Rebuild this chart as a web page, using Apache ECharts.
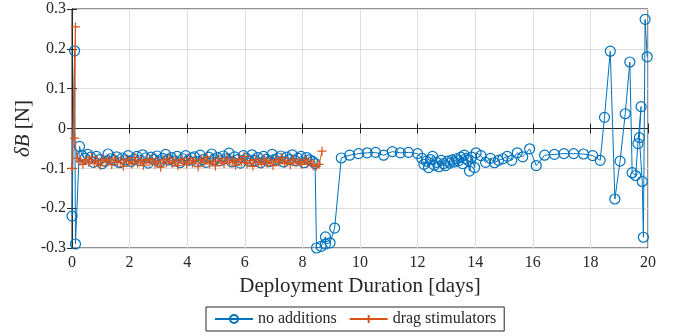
<!DOCTYPE html>
<html><head><meta charset="utf-8">
<script src="https://cdn.jsdelivr.net/npm/echarts@6/dist/echarts.min.js"></script>
<style>html,body{margin:0;padding:0;background:#fff}#c{width:674px;height:336px}</style>
</head><body><div id="c"></div>
<script>
// ---- data (days, delta B in N) ----
var blueDays = [
 0.00,0.09,0.12,0.26,
 0.35,0.45,0.55,0.65,0.75,0.85,0.95,1.05,1.15,1.25,
 1.35,1.45,1.55,1.65,1.75,1.85,1.95,2.05,2.15,2.25,
 2.35,2.45,2.55,2.65,2.75,2.85,2.95,3.05,3.15,3.25,
 3.35,3.45,3.55,3.65,3.75,3.85,3.95,4.05,4.15,4.25,
 4.35,4.45,4.55,4.65,4.75,4.85,4.95,5.05,5.15,5.25,
 5.35,5.45,5.55,5.65,5.75,5.85,5.95,6.05,6.15,6.25,
 6.35,6.45,6.55,6.65,6.75,6.85,6.95,7.05,7.15,7.25,
 7.35,7.45,7.55,7.65,7.75,7.85,7.95,8.05,8.15,8.25,
 8.35,8.44,
 8.49,8.65,8.80,8.80,8.96,9.12,9.35,9.64,9.95,10.25,10.54,10.82,11.12,11.40,11.68,12.00,
 12.15,12.22,12.30,12.38,12.45,12.52,12.58,12.66,12.74,12.82,12.90,12.97,13.05,13.12,
 13.20,13.28,13.35,13.42,13.50,13.56,13.62,13.68,13.75,13.80,13.88,13.98,
 14.03,14.20,14.36,14.53,14.67,14.81,14.96,15.11,15.27,15.46,15.65,15.89,16.12,16.41,
 16.75,17.08,17.42,17.76,18.08,18.34,18.49,18.69,18.85,19.03,19.21,19.37,19.45,19.57,
 19.65,19.76,19.70,19.80,19.84,19.90,19.97
];
var blueValues = [
 -0.220,0.195,-0.290,-0.045,
 -0.068,-0.075,-0.065,-0.072,-0.085,-0.070,-0.078,-0.088,-0.082,-0.064,
 -0.076,-0.080,-0.071,-0.086,-0.074,-0.079,-0.068,-0.083,-0.077,-0.070,
 -0.081,-0.066,-0.074,-0.087,-0.072,-0.078,-0.069,-0.084,-0.075,-0.065,
 -0.079,-0.073,-0.082,-0.070,-0.086,-0.076,-0.068,-0.080,-0.074,-0.071,
 -0.083,-0.067,-0.078,-0.085,-0.072,-0.064,-0.079,-0.073,-0.081,-0.069,
 -0.076,-0.062,-0.084,-0.071,-0.078,-0.087,-0.068,-0.075,-0.082,-0.066,
 -0.080,-0.073,-0.086,-0.070,-0.077,-0.083,-0.065,-0.079,-0.074,-0.069,
 -0.084,-0.072,-0.078,-0.066,-0.081,-0.075,-0.070,-0.086,-0.073,-0.079,
 -0.082,-0.088,
 -0.300,-0.296,-0.272,-0.290,-0.287,-0.250,-0.074,-0.067,-0.063,-0.061,-0.060,-0.067,-0.058,-0.061,-0.060,-0.063,
 -0.075,-0.090,-0.082,-0.098,-0.078,-0.070,-0.092,-0.085,-0.096,-0.080,-0.088,-0.093,-0.082,-0.087,
 -0.079,-0.084,-0.076,-0.081,-0.072,-0.088,-0.067,-0.075,-0.080,-0.107,-0.072,-0.098,
 -0.061,-0.068,-0.085,-0.075,-0.086,-0.080,-0.076,-0.070,-0.080,-0.061,-0.071,-0.051,-0.093,-0.067,
 -0.065,-0.063,-0.063,-0.064,-0.068,-0.080,0.028,0.194,-0.177,-0.082,0.037,0.167,-0.111,-0.118,
 -0.038,0.055,-0.023,-0.133,-0.273,0.274,0.180
];
var orangeDays = [
 0.00,0.12,0.09,
 0.18,0.28,0.38,0.48,0.58,0.68,0.78,0.88,0.98,1.08,
 1.18,1.28,1.38,1.48,1.58,1.68,1.78,1.88,1.98,2.08,
 2.18,2.28,2.38,2.48,2.58,2.68,2.78,2.88,2.98,3.08,
 3.18,3.28,3.38,3.48,3.58,3.68,3.78,3.88,3.98,4.08,
 4.18,4.28,4.38,4.48,4.58,4.68,4.78,4.88,4.98,5.08,
 5.18,5.28,5.38,5.48,5.58,5.68,5.78,5.88,5.98,6.08,
 6.18,6.28,6.38,6.48,6.58,6.68,6.78,6.88,6.98,7.08,
 7.18,7.28,7.38,7.48,7.58,7.68,7.78,7.88,7.98,8.08,
 8.18,8.28,8.38,8.48,
 8.58,8.68
];
var orangeValues = [
 -0.100,0.255,-0.024,
 -0.075,-0.082,-0.090,-0.078,-0.085,-0.072,-0.088,-0.080,-0.093,-0.076,
 -0.084,-0.079,-0.091,-0.074,-0.086,-0.081,-0.095,-0.077,-0.083,-0.089,
 -0.073,-0.087,-0.080,-0.092,-0.078,-0.085,-0.076,-0.090,-0.082,-0.097,
 -0.079,-0.086,-0.074,-0.088,-0.081,-0.093,-0.077,-0.084,-0.090,-0.075,
 -0.087,-0.080,-0.096,-0.078,-0.085,-0.072,-0.089,-0.082,-0.094,-0.076,
 -0.083,-0.088,-0.074,-0.086,-0.080,-0.092,-0.077,-0.085,-0.070,-0.089,
 -0.081,-0.095,-0.078,-0.084,-0.090,-0.076,-0.087,-0.082,-0.093,-0.079,
 -0.085,-0.073,-0.088,-0.081,-0.091,-0.077,-0.086,-0.083,-0.090,-0.078,
 -0.087,-0.082,-0.094,-0.095,
 -0.090,-0.057
];
var xTicks = {min: 0, max: 20, step: 2};
var yTicks = {min: -0.3, max: 0.3, step: 0.1};

function pairs(xs, ys){ return xs.map(function(x,i){ return [x, ys[i]]; }); }

var BLUE = '#0072BD', ORANGE = '#D95319', AX = '#262626', GRID = '#dfdfdf';
var FONT = 'Liberation Serif';
function yfmt(v){ var r = Math.round(v*10)/10; return r === 0 ? '0' : String(r); }

var chart = echarts.init(document.getElementById('c'), null, {renderer: 'canvas'});
chart.setOption({
  animation: false,
  grid: {left: 72, right: 26, top: 9, bottom: 88, show: true, borderColor: AX, borderWidth: 1},
  xAxis: [{
    type: 'value', min: xTicks.min, max: xTicks.max, interval: xTicks.step,
    name: 'Deployment Duration [days]', nameLocation: 'middle', nameGap: 28,
    nameMoveOverlap: false,
    nameTextStyle: {fontFamily: FONT, fontSize: 21, color: AX},
    axisLine: {show: true, lineStyle: {color: AX}},
    axisTick: {show: true, inside: true, length: 5, lineStyle: {color: AX}},
    axisLabel: {fontFamily: FONT, fontSize: 16, color: AX, margin: 7},
    splitLine: {show: true, lineStyle: {color: GRID, width: 1}}
  },{
    type: 'value', position: 'top', min: xTicks.min, max: xTicks.max, interval: xTicks.step,
    axisLine: {show: true, lineStyle: {color: AX}},
    axisTick: {show: true, inside: true, length: 5, lineStyle: {color: AX}},
    axisLabel: {show: false}, splitLine: {show: false}
  }],
  yAxis: [{
    type: 'value', min: yTicks.min, max: yTicks.max, interval: yTicks.step,
    name: '{i|δB} [N]', nameLocation: 'middle', nameGap: 38, nameRotate: 90,
    nameMoveOverlap: false,
    nameTextStyle: {fontFamily: FONT, fontSize: 21, color: AX,
      rich: {i: {fontFamily: FONT, fontStyle: 'italic', fontSize: 21, color: AX}}},
    axisLine: {show: true, lineStyle: {color: AX}},
    axisTick: {show: true, inside: true, length: 5, lineStyle: {color: AX}},
    axisLabel: {fontFamily: FONT, fontSize: 16, color: AX, margin: 6, formatter: yfmt},
    splitLine: {show: true, lineStyle: {color: GRID, width: 1}}
  },{
    type: 'value', position: 'right', min: yTicks.min, max: yTicks.max, interval: yTicks.step,
    axisLine: {show: true, lineStyle: {color: AX}},
    axisTick: {show: true, inside: true, length: 5, lineStyle: {color: AX}},
    axisLabel: {show: false}, splitLine: {show: false}
  }],
  legend: {
    left: 206, top: 307, orient: 'horizontal',
    borderColor: AX, borderWidth: 1, padding: [4, 8], itemGap: 12,
    itemWidth: 38, itemHeight: 10,
    textStyle: {fontFamily: FONT, fontSize: 16, color: AX},
    data: ['no additions', 'drag stimulators']
  },
  series: [{
    name: 'no additions', type: 'line', data: pairs(blueDays, blueValues),
    symbol: 'circle', symbolSize: 10, showAllSymbol: true,
    lineStyle: {color: BLUE, width: 1},
    itemStyle: {color: 'rgba(255,255,255,0)', borderColor: BLUE, borderWidth: 1.2},
    z: 2
  },{
    name: 'drag stimulators', type: 'line', data: pairs(orangeDays, orangeValues),
    symbol: 'path://M5,0 L5,10 M0,5 L10,5', symbolSize: 9, showAllSymbol: true,
    lineStyle: {color: ORANGE, width: 1},
    itemStyle: {color: 'rgba(255,255,255,0)', borderColor: ORANGE, borderWidth: 1.2},
    z: 3
  }]
});
</script>
</body></html>
